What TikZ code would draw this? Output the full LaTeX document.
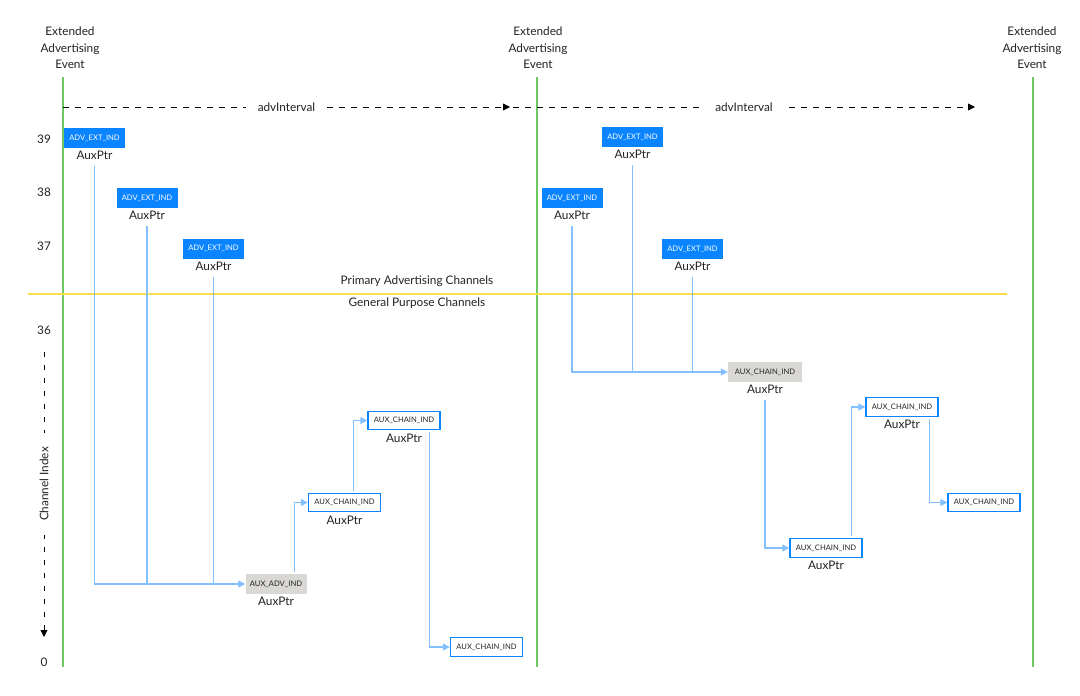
\documentclass[tikz,border=0pt]{standalone}
\usepackage{fontspec}
\setmainfont{Lato}
\usetikzlibrary{positioning}
\usetikzlibrary{arrows.meta}

\definecolor{advblue}{RGB}{10,132,255}
\definecolor{linkblue}{RGB}{130,192,255}
\definecolor{boxgray}{RGB}{217,216,213}
\definecolor{evgreen}{RGB}{108,200,96}
\definecolor{chanyellow}{RGB}{250,220,80}
\definecolor{inkgray}{RGB}{35,35,35}

\tikzset{
  smalltxt/.style={font=\fontsize{7.6}{8.5}\selectfont},
  bigtxt/.style={font=\fontsize{11.8}{13}\selectfont,text=inkgray},
  extbox/.style={smalltxt,fill=advblue,text=white,minimum width=61pt,minimum height=20pt,inner sep=0pt},
  auxbox/.style={smalltxt,fill=boxgray,text=inkgray,minimum height=20pt,inner sep=0pt},
  chainbox/.style={smalltxt,draw=advblue,line width=1.4pt,fill=white,text=inkgray,minimum width=72pt,minimum height=18.5pt,inner sep=0pt},
  ptr/.style={bigtxt,inner sep=2pt},
  link/.style={draw=linkblue,line width=1.4pt,shorten <=4pt},
  linkarrow/.style={link,-{Triangle[length=7pt,width=7pt]}},
  evline/.style={draw=evgreen,line width=1.3pt},
  evlabel/.style={bigtxt,align=center,font=\fontsize{11.8}{16.5}\selectfont},
  interval/.style={draw=black,line width=0.9pt,dash pattern=on 6pt off 6pt,-{Triangle[length=7pt,width=7pt]}},
  ivlabel/.style={bigtxt,fill=white,inner xsep=12pt,inner ysep=4pt},
  chanaxis/.style={draw=black,line width=0.9pt,dash pattern=on 4.5pt off 8.5pt,-{Triangle[length=7pt,width=7pt]}}
}

\begin{document}
\begin{tikzpicture}[x=1pt,y=-1pt]
\useasboundingbox[fill=white] (0,0) rectangle (1080,696);

% advertising events
\draw[evline] (63,77) -- (63,667);
\draw[evline] (537,77) -- (537,667);
\draw[evline] (1033,77) -- (1033,667);
\node[evlabel] (eva) at (70,48) {Extended\\Advertising\\Event};
\node[evlabel] (evb) at (538,48) {Extended\\Advertising\\Event};
\node[evlabel] (evc) at (1032,48) {Extended\\Advertising\\Event};

% advInterval
\draw[interval] (63,107) -- node[ivlabel] (iva) {advInterval} (510,107);
\draw[interval] (513,107) -- node[ivlabel] (ivb) {advInterval} (975,107);

% channel index axis
\node[bigtxt] (ch39) at (44,139) {39};
\node[bigtxt] (ch38) at (44,192) {38};
\node[bigtxt] (ch37) at (44,246) {37};
\node[bigtxt] (ch36) at (44,330) {36};
\node[bigtxt] (ch0) at (44,662) {0};
\draw[chanaxis] (44,352) -- (44,637);
\node[bigtxt,fill=white,rotate=90,inner xsep=14pt,inner ysep=4pt] (chidx) at (44,484) {Channel Index};

% primary / general purpose split
\draw[draw=chanyellow,line width=1.8pt] (28,294) -- (1007,294);
\node[bigtxt] (prim) at (417,281) {Primary Advertising Channels};
\node[bigtxt] (gen) at (417,303) {General Purpose Channels};

% first event
\node[extbox] (e1) at (94.5,138) {ADV\_EXT\_IND};
\node[ptr,below=1pt of e1] (p1) {AuxPtr};
\node[extbox] (e2) at (147,198) {ADV\_EXT\_IND};
\node[ptr,below=1pt of e2] (p2) {AuxPtr};
\node[extbox] (e3) at (213.5,248.5) {ADV\_EXT\_IND};
\node[ptr,below=1pt of e3] (p3) {AuxPtr};

\node[auxbox,minimum width=61pt] (x1) at (276,584) {AUX\_ADV\_IND};
\node[ptr,below=1pt of x1] (q1) {AuxPtr};
\node[chainbox] (c1) at (344.5,502.5) {AUX\_CHAIN\_IND};
\node[ptr,below=1pt of c1] (r1) {AuxPtr};
\node[chainbox] (c2) at (404,420.5) {AUX\_CHAIN\_IND};
\node[ptr,below=1pt of c2] (r2) {AuxPtr};
\node[chainbox] (c3) at (486.5,647) {AUX\_CHAIN\_IND};

\draw[linkarrow] (p1.south) |- (x1.west);
\draw[link] (p2.south) -- (p2.south |- x1.west);
\draw[link] (p3.south) -- (p3.south |- x1.west);
\draw[linkarrow,shorten <=2pt] ([xshift=-12pt]x1.north east) |- (c1.west);
\draw[linkarrow,shorten <=2pt] ([xshift=9pt]c1.north) |- (c2.west);
\draw[linkarrow,shorten <=2pt] ([xshift=-11pt]c2.south east) |- (c3.west);

% second event
\node[extbox] (e4) at (632.5,137) {ADV\_EXT\_IND};
\node[ptr,below=1pt of e4] (p4) {AuxPtr};
\node[extbox] (e5) at (572,198) {ADV\_EXT\_IND};
\node[ptr,below=1pt of e5] (p5) {AuxPtr};
\node[extbox] (e6) at (692.5,249) {ADV\_EXT\_IND};
\node[ptr,below=1pt of e6] (p6) {AuxPtr};

\node[auxbox,minimum width=74pt] (x2) at (765,372) {AUX\_CHAIN\_IND};
\node[ptr,below=1pt of x2] (q2) {AuxPtr};
\node[chainbox] (d1) at (826,548) {AUX\_CHAIN\_IND};
\node[ptr,below=1pt of d1] (s1) {AuxPtr};
\node[chainbox] (d2) at (902,407) {AUX\_CHAIN\_IND};
\node[ptr,below=1pt of d2] (s2) {AuxPtr};
\node[chainbox] (d3) at (984,502.5) {AUX\_CHAIN\_IND};

\draw[linkarrow] (p5.south) |- (x2.west);
\draw[link] (p4.south) -- (p4.south |- x2.west);
\draw[link] (p6.south) -- (p6.south |- x2.west);
\draw[linkarrow] (q2.south) |- (d1.west);
\draw[linkarrow,shorten <=2pt] ([xshift=-11pt]d1.north east) |- (d2.west);
\draw[linkarrow,shorten <=2pt] ([xshift=-9pt]d2.south east) |- (d3.west);
\end{tikzpicture}
\end{document}
